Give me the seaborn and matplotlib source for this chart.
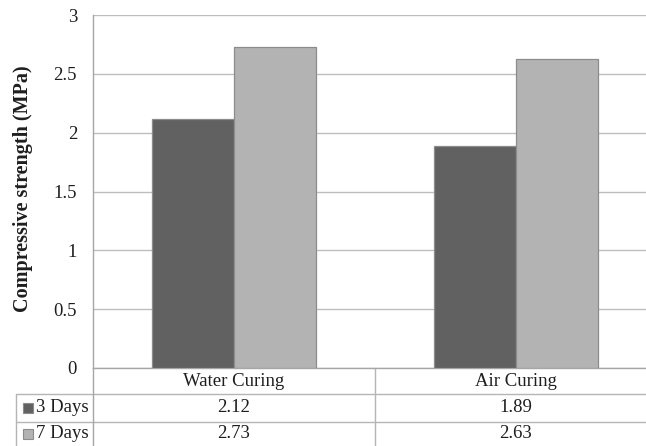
import matplotlib
matplotlib.use("Agg")
import matplotlib.pyplot as plt
import matplotlib.transforms as mtransforms
from matplotlib.lines import Line2D
import seaborn as sns
import pandas as pd

# ---- data ----
categories = ["Water Curing", "Air Curing"]
series = ["3 Days", "7 Days"]
days3 = [2.12, 1.89]
days7 = [2.73, 2.63]
ytick_vals = [0, 0.5, 1, 1.5, 2, 2.5, 3]
ytick_labels = ["0", "0.5", "1", "1.5", "2", "2.5", "3"]

colors = ["#616161", "#b3b3b3"]

df = pd.DataFrame({
    "cond": categories * 2,
    "series": [series[0]] * len(categories) + [series[1]] * len(categories),
    "val": days3 + days7,
})

sns.set_style("white")
plt.rcParams["font.family"] = ["Liberation Serif", "DejaVu Serif"]

W, H = 646, 446
fig = plt.figure(figsize=(W / 100, H / 100), dpi=100)
ax_l, ax_r, ax_t, ax_b = 93, 657, 15, 368
ax = fig.add_axes([ax_l / W, 1 - ax_b / H, (ax_r - ax_l) / W, (ax_b - ax_t) / H])

sns.barplot(data=df, x="cond", y="val", hue="series", palette=colors,
            width=0.58, edgecolor="#8c8c8c", linewidth=0.9, legend=False,
            ax=ax, zorder=3)

fs = 13.5
txt_col = "#1e1e1e"

ax.set_xlim(-0.5, len(categories) - 0.5)
ax.set_ylim(0, 3)
ax.set_yticks(ytick_vals)
ax.set_yticklabels(ytick_labels, fontsize=fs, color=txt_col)
ax.set_xticks([])
ax.set_xlabel("")
ax.tick_params(axis="y", length=0, pad=11.5)
ax.yaxis.grid(True, color="#bdbdbd", linewidth=1.0, zorder=0)
ax.set_axisbelow(True)
for s in ["top", "right"]:
    ax.spines[s].set_visible(False)
ax.spines["left"].set_color("#a6a6a6")
ax.spines["bottom"].set_color("#a6a6a6")
ax.spines["left"].set_linewidth(1.0)
ax.spines["bottom"].set_linewidth(1.0)

ax.set_ylabel("Compressive strength (MPa)", fontsize=14.5, fontweight="bold", color=txt_col)
ax.yaxis.set_label_coords((33 - ax_l) / (ax_r - ax_l), (ax_b - 189) / (ax_b - ax_t))

# ---- data table below the axes ----
trans = mtransforms.blended_transform_factory(ax.transData, ax.transAxes)
ah = ax_b - ax_t
def yfrac(py):
    return (ax_b - py) / ah

line_col = "#b5b5b5"
row_edges = [368, 394, 422, 450]
for py in row_edges[1:3]:
    fig.add_artist(Line2D([16 / W, 1.0], [1 - py / H, 1 - py / H],
                          transform=fig.transFigure, color=line_col, lw=1.0))
fig.add_artist(Line2D([16 / W, 16 / W], [1 - 394 / H, 0], transform=fig.transFigure,
                      color=line_col, lw=1.0))
fig.add_artist(Line2D([ax_l / W, ax_l / W], [1 - 368 / H, 0], transform=fig.transFigure,
                      color="#a6a6a6", lw=1.0))
for i in range(1, len(categories)):
    ax.plot([i - 0.5, i - 0.5], [0, yfrac(460)], transform=trans, color=line_col,
            lw=1.0, clip_on=False)

row_centers = [381, 408, 434]
for i, c in enumerate(categories):
    ax.text(i, yfrac(row_centers[0]), c, transform=trans, ha="center", va="center",
            fontsize=fs, color=txt_col, clip_on=False)
    ax.text(i, yfrac(row_centers[1]), f"{days3[i]:.2f}", transform=trans, ha="center",
            va="center", fontsize=fs, color=txt_col, clip_on=False)
    ax.text(i, yfrac(row_centers[2]), f"{days7[i]:.2f}", transform=trans, ha="center",
            va="center", fontsize=fs, color=txt_col, clip_on=False)

for k, (name, col) in enumerate(zip(series, colors)):
    py = row_centers[k + 1]
    fig.add_artist(Line2D([27.5 / W], [1 - py / H], marker="s", markersize=6.5,
                          markerfacecolor=col, markeredgecolor="#8c8c8c",
                          markeredgewidth=0.8, transform=fig.transFigure))
    fig.text(36.5 / W, 1 - py / H, name, ha="left", va="center", fontsize=fs,
             color=txt_col)

fig.savefig("out.png", dpi=100)
